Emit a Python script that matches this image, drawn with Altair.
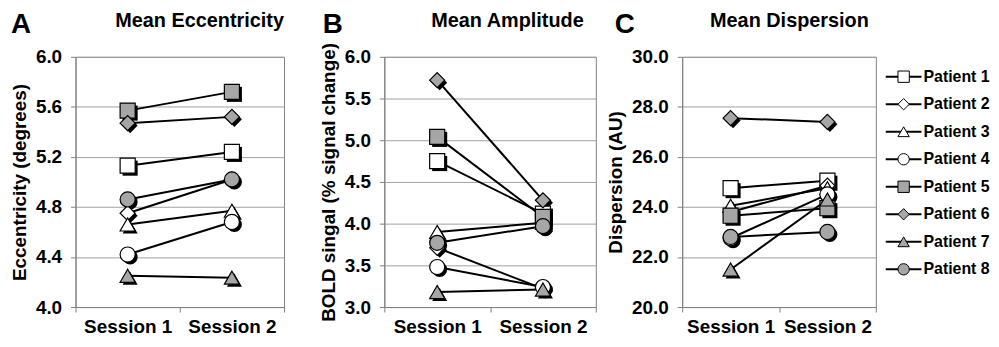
import altair as alt
import pandas as pd

# ---- data ----
patients = ["Patient 1", "Patient 2", "Patient 3", "Patient 4",
            "Patient 5", "Patient 6", "Patient 7", "Patient 8"]
sessions = ["Session 1", "Session 2"]

# A: Mean Eccentricity (degrees)
ecc_s1 = [5.13, 4.75, 4.66, 4.42, 5.57, 5.47, 4.25, 4.86]
ecc_s2 = [5.24, 5.02, 4.77, 4.68, 5.72, 5.52, 4.235, 5.02]
# B: Mean Amplitude (% signal change)
amp_s1 = [4.75, 3.71, 3.90, 3.48, 5.04, 5.72, 3.18, 3.77]
amp_s2 = [4.12, 3.22, 4.01, 3.24, 4.08, 4.28, 3.21, 3.97]
# C: Mean Dispersion (AU)
disp_s1 = [24.75, 23.8, 24.05, 22.75, 23.65, 27.55, 21.5, 22.8]
disp_s2 = [25.05, 24.85, 24.75, 24.5, 23.95, 27.4, 24.3, 23.0]

ecc_ticks = [4.0, 4.4, 4.8, 5.2, 5.6, 6.0]
amp_ticks = [3.0, 3.5, 4.0, 4.5, 5.0, 5.5, 6.0]
disp_ticks = [20.0, 22.0, 24.0, 26.0, 28.0, 30.0]

marker_shapes = ["square", "diamond", "triangle-up", "circle",
                 "square", "diamond", "triangle-up", "circle"]
marker_fills = ["#ffffff", "#ffffff", "#ffffff", "#ffffff",
                "#a6a6a6", "#a6a6a6", "#a6a6a6", "#a6a6a6"]

FONT = "Liberation Sans"
SZ = 230

shape_scale = alt.Scale(domain=patients, range=marker_shapes)
fill_scale = alt.Scale(domain=patients, range=marker_fills)


def long_df(s1, s2):
    return pd.DataFrame({
        "patient": patients + patients,
        "session": [sessions[0]] * len(patients) + [sessions[1]] * len(patients),
        "value": list(s1) + list(s2),
    })


def panel(s1, s2, ticks, ytitle, title, letter, width, height,
          letter_dx, title_cx):
    base = alt.Chart(long_df(s1, s2))
    x = alt.X("session:N", sort=sessions,
              scale=alt.Scale(type="band", domain=sessions,
                              paddingInner=0, paddingOuter=0),
              axis=alt.Axis(title=None, labelAngle=0, tickBand="extent",
                            grid=False, labelPadding=6))
    y = alt.Y("value:Q",
              scale=alt.Scale(domain=[ticks[0], ticks[-1]], nice=False, zero=False),
              axis=alt.Axis(title=ytitle, values=ticks, format=".1f", grid=True,
                            titlePadding=6, labelPadding=9))
    lines = base.mark_line(color="black", strokeWidth=2).encode(
        x=x, y=y, detail="patient:N")
    shadow = base.mark_point(filled=True, color="black", opacity=1, size=SZ,
                             xOffset=2.5, yOffset=2.5).encode(
        x=x, y=y,
        shape=alt.Shape("patient:N", scale=shape_scale, legend=None))
    pts = base.mark_point(filled=True, opacity=1, size=SZ, stroke="black",
                          strokeWidth=1.2).encode(
        x=x, y=y,
        shape=alt.Shape("patient:N", scale=shape_scale, legend=None),
        fill=alt.Fill("patient:N", scale=fill_scale, legend=None))
    letter_t = alt.Chart(pd.DataFrame({"t": [letter]})).mark_text(
        font=FONT, fontSize=28, fontWeight="bold", align="left",
        baseline="alphabetic", color="black").encode(
        text="t:N", x=alt.value(letter_dx), y=alt.value(-24))
    title_t = alt.Chart(pd.DataFrame({"t": [title]})).mark_text(
        font=FONT, fontSize=20, fontWeight="bold", align="center",
        baseline="alphabetic", color="black").encode(
        text="t:N", x=alt.value(title_cx), y=alt.value(-30))
    return alt.layer(lines, shadow, pts, letter_t, title_t).properties(
        width=width, height=height)


H = 252
A = panel(ecc_s1, ecc_s2, ecc_ticks, "Eccentricity (degrees)",
          "Mean Eccentricity", "A", 210, H, -65, 125)
B = panel(amp_s1, amp_s2, amp_ticks, "BOLD singal (% signal change)",
          "Mean Amplitude", "B", 213, H, -62, 124)
C = panel(disp_s1, disp_s2, disp_ticks, "Dispersion (AU)",
          "Mean Dispersion", "C", 195, H, -68, 108)

# ---- hand-built legend ----
leg_df = pd.DataFrame({"patient": patients})
leg_y = alt.Y("patient:N", sort=patients,
              scale=alt.Scale(type="point", domain=patients, range=[20, 214],
                              padding=0),
              axis=None)
leg_base = alt.Chart(leg_df)
leg_rule = leg_base.mark_rule(color="black", strokeWidth=2).encode(
    x=alt.value(0), x2=alt.value(36), y=leg_y)
leg_pts = leg_base.mark_point(filled=True, opacity=1, size=130, stroke="black",
                              strokeWidth=1).encode(
    x=alt.value(18), y=leg_y,
    shape=alt.Shape("patient:N", scale=shape_scale, legend=None),
    fill=alt.Fill("patient:N", scale=fill_scale, legend=None))
leg_txt = leg_base.mark_text(font=FONT, fontSize=16, fontWeight="bold",
                             align="left", baseline="middle", color="black").encode(
    x=alt.value(38), y=leg_y, text="patient:N")
L = alt.layer(leg_rule, leg_pts, leg_txt).properties(
    width=36, height=H, view=alt.ViewBackground(stroke="transparent"))

chart = alt.hconcat(
    alt.hconcat(A, B, spacing=34),
    alt.hconcat(C, L, spacing=7),
    spacing=9,
).properties(
    padding={"left": 2, "top": 1, "right": 0, "bottom": 0}
).configure_axis(
    labelFont=FONT, labelFontSize=19, labelFontWeight="bold", labelColor="black",
    titleFont=FONT, titleFontSize=19, titleFontWeight="bold", titleColor="black",
    domainColor="#808080", tickColor="#808080", tickSize=5,
    gridColor="#a0a0a0", gridWidth=1,
).configure_view(
    stroke="#808080", strokeWidth=1
)

chart.save("out.html", embed_options={"renderer": "svg", "actions": False})
